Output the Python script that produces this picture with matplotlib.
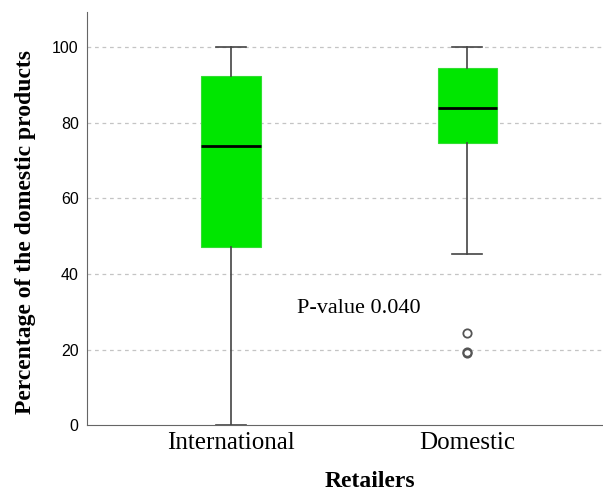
import matplotlib
matplotlib.use("Agg")
import matplotlib.pyplot as plt

# box statistics
groups = ["International", "Domestic"]
medians = [73.8, 83.9]
q1s = [47.1, 74.6]
q3s = [92.3, 94.4]
whis_lo = [0.0, 45.2]
whis_hi = [100.0, 100.0]
outliers = [[], [24.3, 19.4, 19.0]]

stats = []
for i, g in enumerate(groups):
    stats.append(dict(label=g, med=medians[i], q1=q1s[i], q3=q3s[i],
                      whislo=whis_lo[i], whishi=whis_hi[i], fliers=outliers[i]))

fig = plt.figure(figsize=(6.03, 4.92), dpi=100)
ax = fig.add_axes([0.1443, 0.136, 0.8557, 0.8396])

ax.bxp(stats, positions=[0, 1], widths=0.25, patch_artist=True,
       boxprops=dict(facecolor="#00e600", edgecolor="#33dd33", linewidth=0.8),
       medianprops=dict(color="black", linewidth=2),
       whiskerprops=dict(color="#444444", linewidth=1.2),
       capprops=dict(color="#444444", linewidth=1.2),
       capwidths=0.125,
       flierprops=dict(marker="o", markersize=6, markerfacecolor="none",
                       markeredgecolor="#555555", markeredgewidth=1.3))

ax.set_xlim(-0.61, 1.576)
ax.set_ylim(0, 109.3)
ax.set_yticks([0, 20, 40, 60, 80, 100])
for y in [20, 40, 60, 80, 100]:
    ax.axhline(y, color="#c4c4c4", linestyle=(0, (3, 3)), linewidth=0.9, zorder=0)

ax.spines["top"].set_visible(False)
ax.spines["right"].set_visible(False)
ax.spines["left"].set_color("#666666")
ax.spines["bottom"].set_color("#666666")
ax.tick_params(axis="both", length=0)
ax.tick_params(axis="y", labelsize=11.5, pad=6)
ax.tick_params(axis="x", pad=5)
for lab in ax.get_yticklabels():
    lab.set_family("Liberation Sans")
ax.set_xticks([0, 1])
ax.set_xticklabels(groups, family="Liberation Serif", fontsize=18)

ax.set_xlabel("Retailers", family="Liberation Serif", fontsize=17,
              fontweight="bold", va="center")
ax.xaxis.set_label_coords(0.548, -0.136)
ax.set_ylabel("Percentage of the domestic products", family="Liberation Serif",
              fontsize=17, fontweight="bold", va="center")
ax.yaxis.set_label_coords(-0.12, 0.4685)

ax.text(0.28, 29.6, "P-value 0.040", family="Liberation Serif", fontsize=16)

fig.savefig("out.png", dpi=100)
